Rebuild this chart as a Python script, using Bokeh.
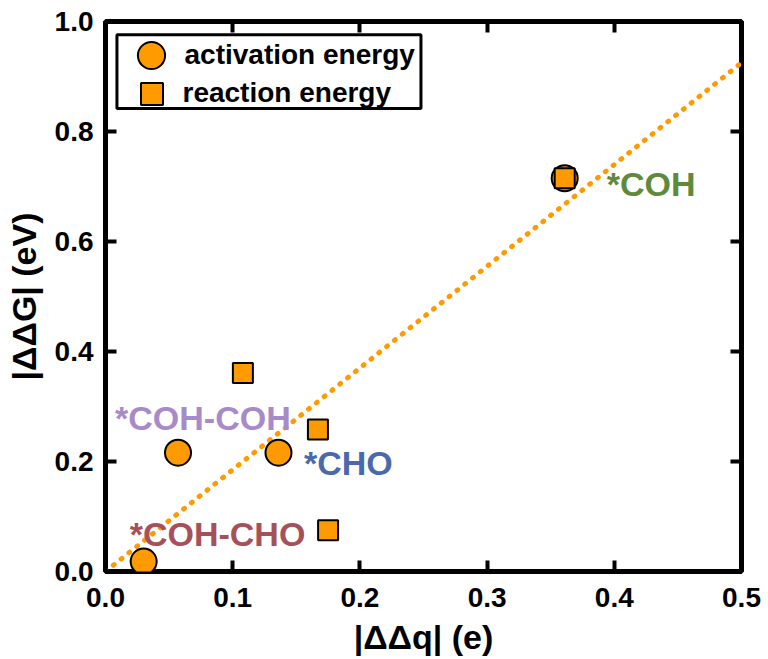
from bokeh.plotting import figure
from bokeh.models import (Range1d, FixedTicker, LinearAxis, Legend, LegendItem,
                          Label, ColumnDataSource, BoxAnnotation)
from bokeh.embed import file_html
from bokeh.resources import INLINE

# ---- data ----
act_x = [0.030, 0.057, 0.136, 0.361]
act_y = [0.018, 0.216, 0.216, 0.715]
rxn_x = [0.108, 0.167, 0.175, 0.361]
rxn_y = [0.361, 0.258, 0.075, 0.715]
fit_x = [0.0, 0.5]
fit_y = [0.0, 0.925]
species = ["*COH", "*COH-COH", "*CHO", "*COH-CHO"]
species_colors = ["#5E8A3C", "#A78BC9", "#4A69AC", "#A6505A"]
x_ticks = [0.0, 0.1, 0.2, 0.3, 0.4, 0.5]
x_tick_labels = ["0.0", "0.1", "0.2", "0.3", "0.4", "0.5"]
y_ticks = [0.0, 0.2, 0.4, 0.6, 0.8, 1.0]
y_tick_labels = ["0.0", "0.2", "0.4", "0.6", "0.8", "1.0"]

# label anchor positions (left edge, vertical middle), in data units
label_x = [0.394, 0.0075, 0.156, 0.019]
label_y = [0.705, 0.280, 0.198, 0.069]

FONT = "Liberation Sans"
ORANGE = "#FF9A00"

p = figure(width=768, height=659, output_backend="svg", toolbar_location=None,
           x_range=Range1d(0, 0.5), y_range=Range1d(0, 1.0),
           min_border_left=105, min_border_right=27, min_border_top=21,
           min_border_bottom=88)
p.grid.visible = False
p.outline_line_color = "black"
p.outline_line_width = 5
p.background_fill_color = "white"
p.border_fill_color = "white"

def style_axis(ax, ticks, labels, show_labels):
    ax.ticker = FixedTicker(ticks=ticks)
    ax.major_label_overrides = {t: l for t, l in zip(ticks, labels)}
    ax.axis_line_color = None
    ax.major_tick_in = 11
    ax.major_tick_out = 0
    ax.major_tick_line_width = 4
    ax.major_tick_line_color = "black"
    ax.minor_tick_line_color = None
    ax.major_label_text_font = FONT
    ax.major_label_text_font_style = "bold"
    if show_labels:
        ax.major_label_text_color = "black"
        ax.major_label_text_font_size = "28px"
    else:
        ax.major_label_text_color = None
        ax.major_label_text_font_size = "1px"
        ax.major_label_standoff = 0

xa = p.xaxis[0]
ya = p.yaxis[0]
style_axis(xa, x_ticks, x_tick_labels, True)
style_axis(ya, y_ticks, y_tick_labels, True)
xa.major_label_standoff = 16
ya.major_label_standoff = 12
xa.axis_label = "|ΔΔq| (e)"
ya.axis_label = "|ΔΔG| (eV)"
for ax in (xa, ya):
    ax.axis_label_text_font = FONT
    ax.axis_label_text_font_style = "bold"
    ax.axis_label_text_font_size = "34px"
    ax.axis_label_text_color = "black"
xa.axis_label_standoff = 8
ya.axis_label_standoff = 9

top = LinearAxis()
right = LinearAxis()
style_axis(top, x_ticks, x_tick_labels, False)
style_axis(right, y_ticks, y_tick_labels, False)
p.add_layout(top, "above")
p.add_layout(right, "right")

# dotted guide line
p.line(fit_x, fit_y, line_color=ORANGE, line_width=5, line_dash="1 9",
       line_cap="round")

# annotation texts
for name, col, lx, ly in zip(species, species_colors, label_x, label_y):
    p.add_layout(Label(x=lx, y=ly, text=name, text_color=col,
                       text_font=FONT, text_font_style="bold",
                       text_font_size="34px", text_align="left",
                       text_baseline="middle"))

act_src = ColumnDataSource(dict(x=act_x, y=act_y))
rxn_src = ColumnDataSource(dict(x=rxn_x, y=rxn_y))
c = p.scatter("x", "y", source=act_src, marker="circle", size=26,
              fill_color=ORANGE, line_color="black", line_width=2)
s = p.scatter("x", "y", source=rxn_src, marker="square", size=20,
              fill_color=ORANGE, line_color="black", line_width=2)

# legend frame
p.add_layout(BoxAnnotation(left=0.009, right=0.248, top=0.976, bottom=0.842,
                           fill_color="white", fill_alpha=1.0,
                           line_color="black", line_alpha=1.0, line_width=3))

common = dict(margin=0, padding=0, label_text_font=FONT,
              label_text_font_style="bold", label_text_font_size="28px",
              label_text_color="black", border_line_color=None,
              background_fill_alpha=0.0)
# location = bottom-left corner of each legend, screen px from frame bottom-left
leg_a = Legend(items=[LegendItem(label="activation energy", renderers=[c])],
               location=(11.5, 482.5), glyph_width=68, glyph_height=68,
               label_standoff=0, **common)
leg_b = Legend(items=[LegendItem(label="reaction energy", renderers=[s])],
               location=(18.5, 450.5), glyph_width=55, glyph_height=55,
               label_standoff=4, **common)
p.add_layout(leg_a)
p.add_layout(leg_b)

open("out.html", "w").write(file_html(p, INLINE))
